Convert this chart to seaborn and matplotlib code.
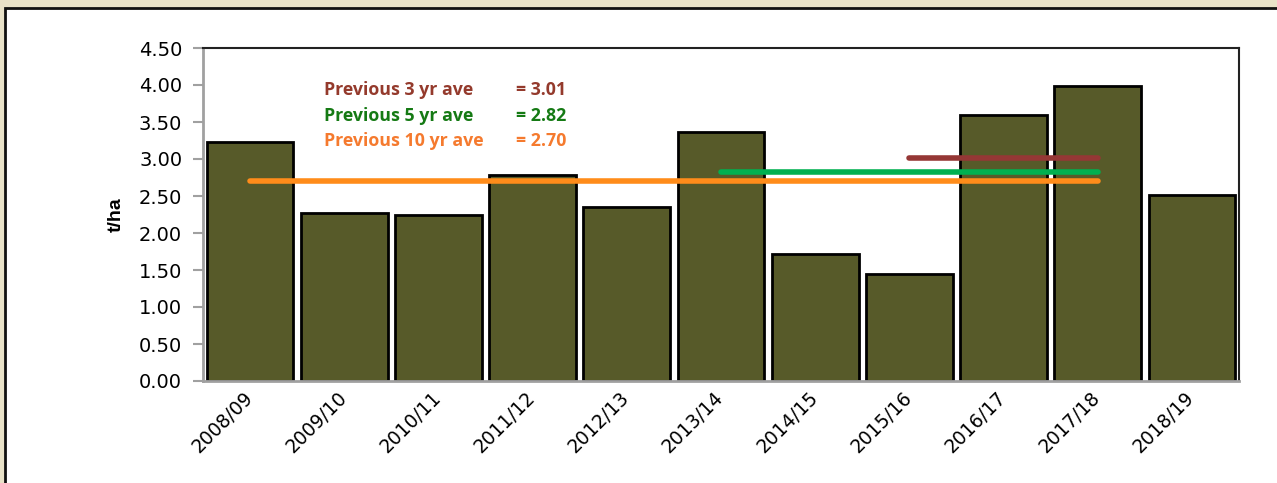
import matplotlib
matplotlib.use("Agg")
import matplotlib.pyplot as plt
import matplotlib.transforms as mtransforms
import seaborn as sns
import pandas as pd
from matplotlib.patches import Rectangle

seasons = ["2008/09", "2009/10", "2010/11", "2011/12", "2012/13", "2013/14",
           "2014/15", "2015/16", "2016/17", "2017/18", "2018/19"]
yields = [3.23, 2.27, 2.24, 2.78, 2.35, 3.36, 1.71, 1.45, 3.59, 3.99, 2.51]

avg_labels = ["Previous 3 yr ave", "Previous 5 yr ave", "Previous 10 yr ave"]
avg_values = [3.01, 2.82, 2.70]
avg_start = ["2015/16", "2013/14", "2008/09"]
avg_end = ["2017/18", "2017/18", "2017/18"]
yticks = [0.0, 0.5, 1.0, 1.5, 2.0, 2.5, 3.0, 3.5, 4.0, 4.5]

text_colors = ["#943a2c", "#157a14", "#f57a2e"]
line_colors = ["#953735", "#00b050", "#ff8c1a"]

sns.set_style("white")
plt.rcParams["font.family"] = ["DejaVu Sans"]

fig = plt.figure(figsize=(12.77, 4.83), dpi=100)
fig.patch.set_facecolor("#e9e2c8")
frame = Rectangle((5 / 1277, -0.05), 1.2, 1 - 8 / 483 + 0.05,
                  transform=fig.transFigure, facecolor="white",
                  edgecolor="#111111", linewidth=2)
frame.set_zorder(-10)
fig.add_artist(frame)

ax = fig.add_axes([203 / 1277, 1 - 381 / 483, (1239 - 203) / 1277, (381 - 48) / 483])
ax.set_zorder(5)
df = pd.DataFrame({"season": seasons, "yield": yields})
sns.barplot(data=df, x="season", y="yield", ax=ax, color="#575a29",
            saturation=1, width=0.92, edgecolor="black", linewidth=2, zorder=2)

for lab, val, s, e, tc, lc, i in zip(avg_labels, avg_values, avg_start, avg_end,
                                     text_colors, line_colors, range(3)):
    x0 = seasons.index(s)
    x1 = seasons.index(e)
    ax.plot([x0, x1], [val, val], color=lc, linewidth=4, solid_capstyle="round", zorder=3)
    ty = 3.93 - i * 0.345
    ax.text(0.78, ty, lab, color=tc, fontsize=12.8, fontweight="bold",
            family=["Open Sans", "DejaVu Sans"], va="center", ha="left")
    ax.text(2.82, ty, f"= {val:.2f}", color=tc, fontsize=12.8, fontweight="bold",
            family=["Open Sans", "DejaVu Sans"], va="center", ha="left")

ax.set_xlim(-0.5, len(seasons) - 0.5)
ax.set_ylim(0, 4.5)
ax.set_yticks(yticks)
ax.set_yticklabels([f"{v:.2f}" for v in yticks], fontsize=14, color="black")
ax.set_xlabel("")
ax.set_ylabel("t/ha", fontsize=14, fontweight="bold", labelpad=10, color="black",
              family=["Liberation Sans Narrow", "Liberation Sans", "DejaVu Sans"])
ax.tick_params(axis="y", which="major", left=True, length=7, width=1.5,
               color="#a0a0a0", pad=8)
ax.tick_params(axis="x", bottom=False, pad=4)
offset = mtransforms.ScaledTranslation(-7 / 100, 3 / 100, fig.dpi_scale_trans)
for lbl in ax.get_xticklabels():
    lbl.set_rotation(45)
    lbl.set_ha("right")
    lbl.set_rotation_mode("anchor")
    lbl.set_fontsize(13.5)
    lbl.set_color("black")
    lbl.set_transform(lbl.get_transform() + offset)

for side in ["left", "bottom"]:
    ax.spines[side].set_color("#a0a0a0")
    ax.spines[side].set_linewidth(2)
for side in ["top", "right"]:
    ax.spines[side].set_color("#222222")
    ax.spines[side].set_linewidth(1.5)

fig.savefig("out.png", dpi=100, facecolor=fig.get_facecolor())
